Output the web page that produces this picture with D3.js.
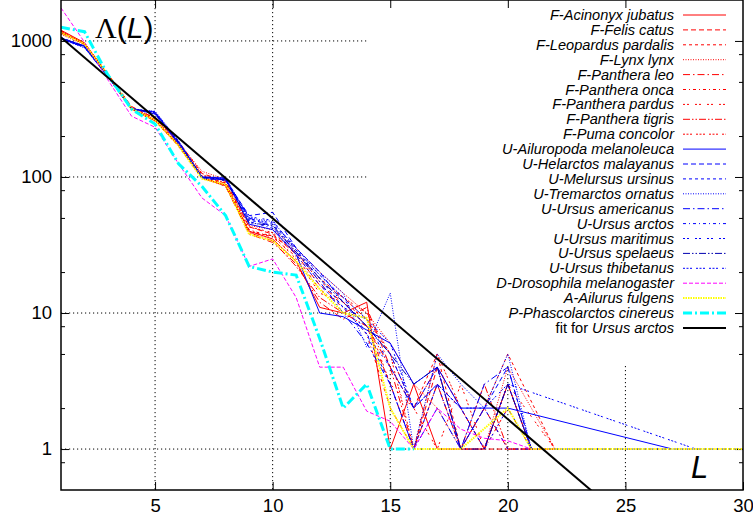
<!DOCTYPE html>
<html>
<head>
<meta charset="utf-8">
<script src="https://cdn.jsdelivr.net/npm/d3@7"></script>
<style>
  body { margin: 0; background: #fff; }
  text { font-family: "Liberation Sans", Arial, Helvetica, sans-serif; }
</style>
</head>
<body>
<script>
// word length L
const L = [1, 2, 3, 4, 5, 6, 7, 8, 9, 10, 11, 12, 13, 14, 15, 16, 17, 18, 19, 20,
  21, 22, 23, 24, 25, 26, 27, 28, 29, 30];

// Felidae
const acinonyx = [1200, 970, 560, 320, 262, 172, 98, 86, 40, 35, 24, 11, 10, 12, 1, 3, 1, 1, 1, 3, 1, 1, null, null, null, null, null, null, null, null];
const felis = [1150, 950, 570, 330, 270, 182, 106, 93, 43, 38, 27, 16, 12, 8, 3, 1, 4, 2, 1, 1, 1, null, null, null, null, null, null, null, null, null];
const leopardus = [1180, 940, 555, 315, 258, 168, 97, 90, 39, 37, 28, 18, 13, 9, 5, 2, 5, 1, 2, 5, null, 1, null, null, null, null, null, null, null, null];
const lynx = [1120, 930, 560, 325, 272, 178, 110, 96, 44, 41, 30, 20, 14, 10, 6, 3, 2, 1, 1, 4, 2, 1, 1, 1, 1, 1, 1, 1, 1, 1];
const leo = [1170, 960, 565, 318, 260, 170, 100, 85, 38, 33, 23, 12, 9, 11, 4, 1, 3, 1, 2, 1, 1, null, null, null, null, null, null, null, null, null];
const onca = [1190, 955, 575, 322, 265, 176, 102, 88, 41, 36, 26, 15, 11, 7, 2, 1, 3, 1, 1, 2, 1, null, null, null, null, null, null, null, null, null];
const pardus = [1160, 945, 558, 320, 263, 174, 101, 91, 40, 37, 25, 14, 12, 9, 3, 2, 1, 3, 1, 3, null, 1, null, null, null, null, null, null, null, null];
const tigris = [1140, 950, 562, 316, 258, 171, 99, 87, 39, 34, 22, 13, 10, 8, 4, 2, 4, 1, 3, 1, 1, null, null, null, null, null, null, null, null, null];
const puma = [1175, 965, 570, 323, 268, 177, 104, 90, 43, 39, 28, 17, 13, 10, 5, 1, 5, 2, 1, 3, 1, 1, null, null, null, null, null, null, null, null];

// Ursidae
const ailuropoda = [1050, 920, 550, 318, 290, 175, 100, 98, 45, 41, 27, 10, 9.4, 7.5, 6, 3, 4, 2, 2, 2, null, null, null, null, null, null, 1, null, null, null];
const helarctos = [1040, 900, 545, 315, 300, 180, 98, 95, 52, 55, 30, 20, 12, 8, 5, 2, 4, 1, 2, 4, 1, null, null, null, null, null, null, null, null, null];
const melursus = [1060, 910, 550, 320, 295, 178, 97, 96, 48, 45, 29, 18, 11, 7, 3, 1, 3, 2, 1, 3, 1, 1, 1, 1, 1, 1, 1, 1, 1, 1];
const tremarctos = [1030, 890, 540, 312, 305, 185, 100, 99, 50, 47, 30, 20, 14, 5.6, 14, 1, 5, 3, 2, 5, 1, null, null, null, null, null, null, null, null, null];
const americanus = [1045, 905, 548, 318, 298, 182, 99, 97, 50, 43, 28, 17, 10, 6, 3, 1, 2, 1, 3, 4, 1, null, null, null, null, null, null, null, null, null];
const arctos = [1055, 915, 552, 320, 292, 179, 100, 96, 47, 42, 27, 16, 11, 9, 4, 2, 3, 1, 2, 1, 1, null, null, null, null, null, null, null, null, null];
const maritimus = [1035, 895, 545, 316, 302, 183, 98, 94, 51, 48, 29, 19, 13, 7, 4, 2, 3, 2, 1, 2, 1, null, null, null, null, null, null, null, null, null];
const spelaeus = [1050, 910, 550, 319, 296, 180, 100, 95, 46, 44, 28, 18, 12, 8, 5, 3, 4, 1, 1, 3, 1, null, null, null, null, null, null, null, null, null];
const thibetanus = [1040, 900, 547, 317, 299, 181, 99, 97, 49, 46, 30, 19, 13, 9, 6, 2, 3, 2, 2, 3, null, null, null, null, null, null, null, 1, null, null];

// others
const drosophila = [1750, 980, 515, 280, 232, 125, 70, 52, 22, 25, 13, 4, 4, 1.9, 1.6, 1, 2, 1.4, 1.2, 1.15, 1, null, null, null, null, null, null, null, null, null];
const ailurus = [1150, 950, 560, 318, 262, 170, 97, 88, 38, 34, 24, 15, 10, 9.2, 2, 1, 1, 1, null, 2, 1, 1, 1, 1, 1, 1, 1, 1, 1, 1];
const phascolarctos = [1260, 1170, 560, 315, 245, 125, 85, 52, 22, 20, 19, 6.5, 2, 3, 1, 1, null, null, null, null, null, null, null, null, null, null, null, null, null, null];

// fit for Ursus arctos: A * exp(-k L)
const fitA = 1488;
const fitK = 0.34;

const xTicks = [5, 10, 15, 20, 25, 30];
const yTicks = [1, 10, 100, 1000];
const yMinorTicks = [0.8, 2, 5, 8, 20, 50, 80, 200, 500, 800];

const red = "#ff0000";
const blue = "#0000ff";

const series = [
  { name: "F-Acinonyx jubatus", values: acinonyx, color: red, dash: null, width: 1 },
  { name: "F-Felis catus", values: felis, color: red, dash: "5,3", width: 1 },
  { name: "F-Leopardus pardalis", values: leopardus, color: red, dash: "3,3", width: 1 },
  { name: "F-Lynx lynx", values: lynx, color: red, dash: "1,1.5", width: 1 },
  { name: "F-Panthera leo", values: leo, color: red, dash: "7,3,1.5,3", width: 1 },
  { name: "F-Panthera onca", values: onca, color: red, dash: "3,3,1,3", width: 1 },
  { name: "F-Panthera pardus", values: pardus, color: red, dash: "2,2,2,6", width: 1 },
  { name: "F-Panthera tigris", values: tigris, color: red, dash: "7,2,1.5,2,1.5,2", width: 1 },
  { name: "F-Puma concolor", values: puma, color: red, dash: "2,1.5,2,1.5,2,4", width: 1 },
  { name: "U-Ailuropoda melanoleuca", values: ailuropoda, color: blue, dash: null, width: 1 },
  { name: "U-Helarctos malayanus", values: helarctos, color: blue, dash: "5,3", width: 1 },
  { name: "U-Melursus ursinus", values: melursus, color: blue, dash: "3,3", width: 1 },
  { name: "U-Tremarctos ornatus", values: tremarctos, color: blue, dash: "1,1.5", width: 1 },
  { name: "U-Ursus americanus", values: americanus, color: blue, dash: "7,3,1.5,3", width: 1 },
  { name: "U-Ursus arctos", values: arctos, color: blue, dash: "3,3,1,3", width: 1 },
  { name: "U-Ursus maritimus", values: maritimus, color: blue, dash: "2,2,2,6", width: 1 },
  { name: "U-Ursus spelaeus", values: spelaeus, color: "#0000b0", dash: "7,2,1.5,2,1.5,2", width: 1 },
  { name: "U-Ursus thibetanus", values: thibetanus, color: blue, dash: "2,1.5,2,1.5,2,4", width: 1 },
  { name: "D-Drosophila melanogaster", values: drosophila, color: "#ff00ff", dash: "4,2", width: 1 },
  { name: "A-Ailurus fulgens", values: ailurus, color: "#ffff00", dash: "1.5,1", width: 2 },
  { name: "P-Phascolarctos cinereus", values: phascolarctos, color: "#00ffff", dash: "9,3,2,3", width: 3 },
];

const w = 753;
const h = 522;
const pLeft = 61, pRight = 743, pTop = 0, pBottom = 490;
const keyLeft = 368, keyBottom = 366;

const xScale = d3.scaleLinear().domain([1, 30]).range([pLeft, pRight]);
const yScale = d3.scaleLog().domain([0.5, 2000]).range([pBottom, pTop]);

const svg = d3.select("body").append("svg").attr("width", w).attr("height", h);

svg.append("defs").append("clipPath").attr("id", "plot")
  .append("rect")
  .attr("x", pLeft).attr("y", pTop)
  .attr("width", pRight - pLeft).attr("height", pBottom - pTop);

// grid (kept out of the key area)
svg.append("g").selectAll("line")
  .data(xTicks.filter((d) => d < 30))
  .enter()
  .append("line")
  .attr("x1", (d) => xScale(d))
  .attr("x2", (d) => xScale(d))
  .attr("y1", (d) => (xScale(d) > keyLeft ? keyBottom : pTop))
  .attr("y2", pBottom)
  .attr("stroke", "#000")
  .attr("stroke-dasharray", "1.2,2.8");

svg.append("g").selectAll("line")
  .data(yTicks)
  .enter()
  .append("line")
  .attr("y1", (d) => yScale(d))
  .attr("y2", (d) => yScale(d))
  .attr("x1", pLeft)
  .attr("x2", (d) => (yScale(d) < keyBottom ? keyLeft : pRight))
  .attr("stroke", "#000")
  .attr("stroke-dasharray", "1.2,2.8");

// axes
function styleAxis(g) {
  g.select(".domain").remove();
  g.selectAll(".tick line").attr("stroke", "#000").attr("stroke-width", 1);
  g.selectAll(".tick text")
    .attr("fill", "#000")
    .style("font-family", '"Liberation Sans", Arial, sans-serif')
    .style("font-size", "18.5px");
}

svg.append("g")
  .attr("transform", "translate(0," + pBottom + ")")
  .call(d3.axisBottom(xScale).tickValues(xTicks).tickSize(-8).tickSizeOuter(0).tickPadding(9).tickFormat(d3.format("d")))
  .call(styleAxis);

svg.append("g")
  .attr("transform", "translate(0," + pTop + ")")
  .call(d3.axisTop(xScale).tickValues(xTicks.filter((d) => d < 30)).tickSize(-8).tickSizeOuter(0).tickFormat(""))
  .call(styleAxis);

svg.append("g")
  .attr("transform", "translate(" + pLeft + ",0)")
  .call(d3.axisLeft(yScale).tickValues(yTicks).tickSize(-8).tickSizeOuter(0).tickPadding(9).tickFormat(d3.format("d")))
  .call(styleAxis);

svg.append("g")
  .attr("transform", "translate(" + pLeft + ",0)")
  .call(d3.axisLeft(yScale).tickValues(yMinorTicks).tickSize(-4).tickSizeOuter(0).tickFormat(""))
  .call(styleAxis);

svg.append("g")
  .attr("transform", "translate(" + pRight + ",0)")
  .call(d3.axisRight(yScale).tickValues(yTicks).tickSize(-8).tickSizeOuter(0).tickFormat(""))
  .call(styleAxis);

svg.append("g")
  .attr("transform", "translate(" + pRight + ",0)")
  .call(d3.axisRight(yScale).tickValues(yMinorTicks).tickSize(-4).tickSizeOuter(0).tickFormat(""))
  .call(styleAxis);

// series
const line = d3.line()
  .x((d) => xScale(d.L))
  .y((d) => yScale(d.v));

const lines = svg.append("g").attr("clip-path", "url(#plot)");

series.forEach((s) => {
  const pts = L.map((l, i) => ({ L: l, v: s.values[i] })).filter((d) => d.v != null);
  lines.append("path")
    .attr("d", line(pts))
    .attr("fill", "none")
    .attr("stroke", s.color)
    .attr("stroke-width", s.width)
    .attr("stroke-dasharray", s.dash);
});

// fit line
const fitPts = [1, 30].map((l) => ({ L: l, v: fitA * Math.exp(-fitK * l) }));
lines.append("path")
  .attr("d", line(fitPts))
  .attr("fill", "none")
  .attr("stroke", "#000")
  .attr("stroke-width", 2);

// frame
svg.append("rect")
  .attr("x", pLeft).attr("y", pTop)
  .attr("width", pRight - pLeft).attr("height", pBottom - pTop)
  .attr("fill", "none")
  .attr("stroke", "#000")
  .attr("stroke-width", 1.5);

// key
const keyX = 674, keyY0 = 15, keyStep = 14.9;
const key = svg.append("g");

series.forEach((s, i) => {
  const y = keyY0 + i * keyStep;
  key.append("text")
    .attr("x", keyX)
    .attr("y", y + 5)
    .attr("text-anchor", "end")
    .style("font-size", "14.6px")
    .style("font-style", "italic")
    .text(s.name);
  key.append("line")
    .attr("x1", 683).attr("x2", 726)
    .attr("y1", y).attr("y2", y)
    .attr("stroke", s.color)
    .attr("stroke-width", s.width)
    .attr("stroke-dasharray", s.dash);
});

const fy = keyY0 + series.length * keyStep;
const ft = key.append("text")
  .attr("x", keyX)
  .attr("y", fy + 5)
  .attr("text-anchor", "end")
  .style("font-size", "14.6px");
ft.append("tspan").text("fit for ");
ft.append("tspan").style("font-style", "italic").text("Ursus arctos");
key.append("line")
  .attr("x1", 683).attr("x2", 726)
  .attr("y1", fy).attr("y2", fy)
  .attr("stroke", "#000")
  .attr("stroke-width", 2);

// axis titles
const yt = svg.append("text").attr("x", 95).attr("y", 38).style("font-size", "30px");
yt.append("tspan").style("font-family", '"Liberation Serif", "DejaVu Serif", serif').text("Λ");
yt.append("tspan").text("(");
yt.append("tspan").style("font-style", "italic").text("L");
yt.append("tspan").text(")");

svg.append("text")
  .attr("x", 691).attr("y", 478)
  .style("font-size", "31px")
  .style("font-style", "italic")
  .text("L");
</script>
</body>
</html>
